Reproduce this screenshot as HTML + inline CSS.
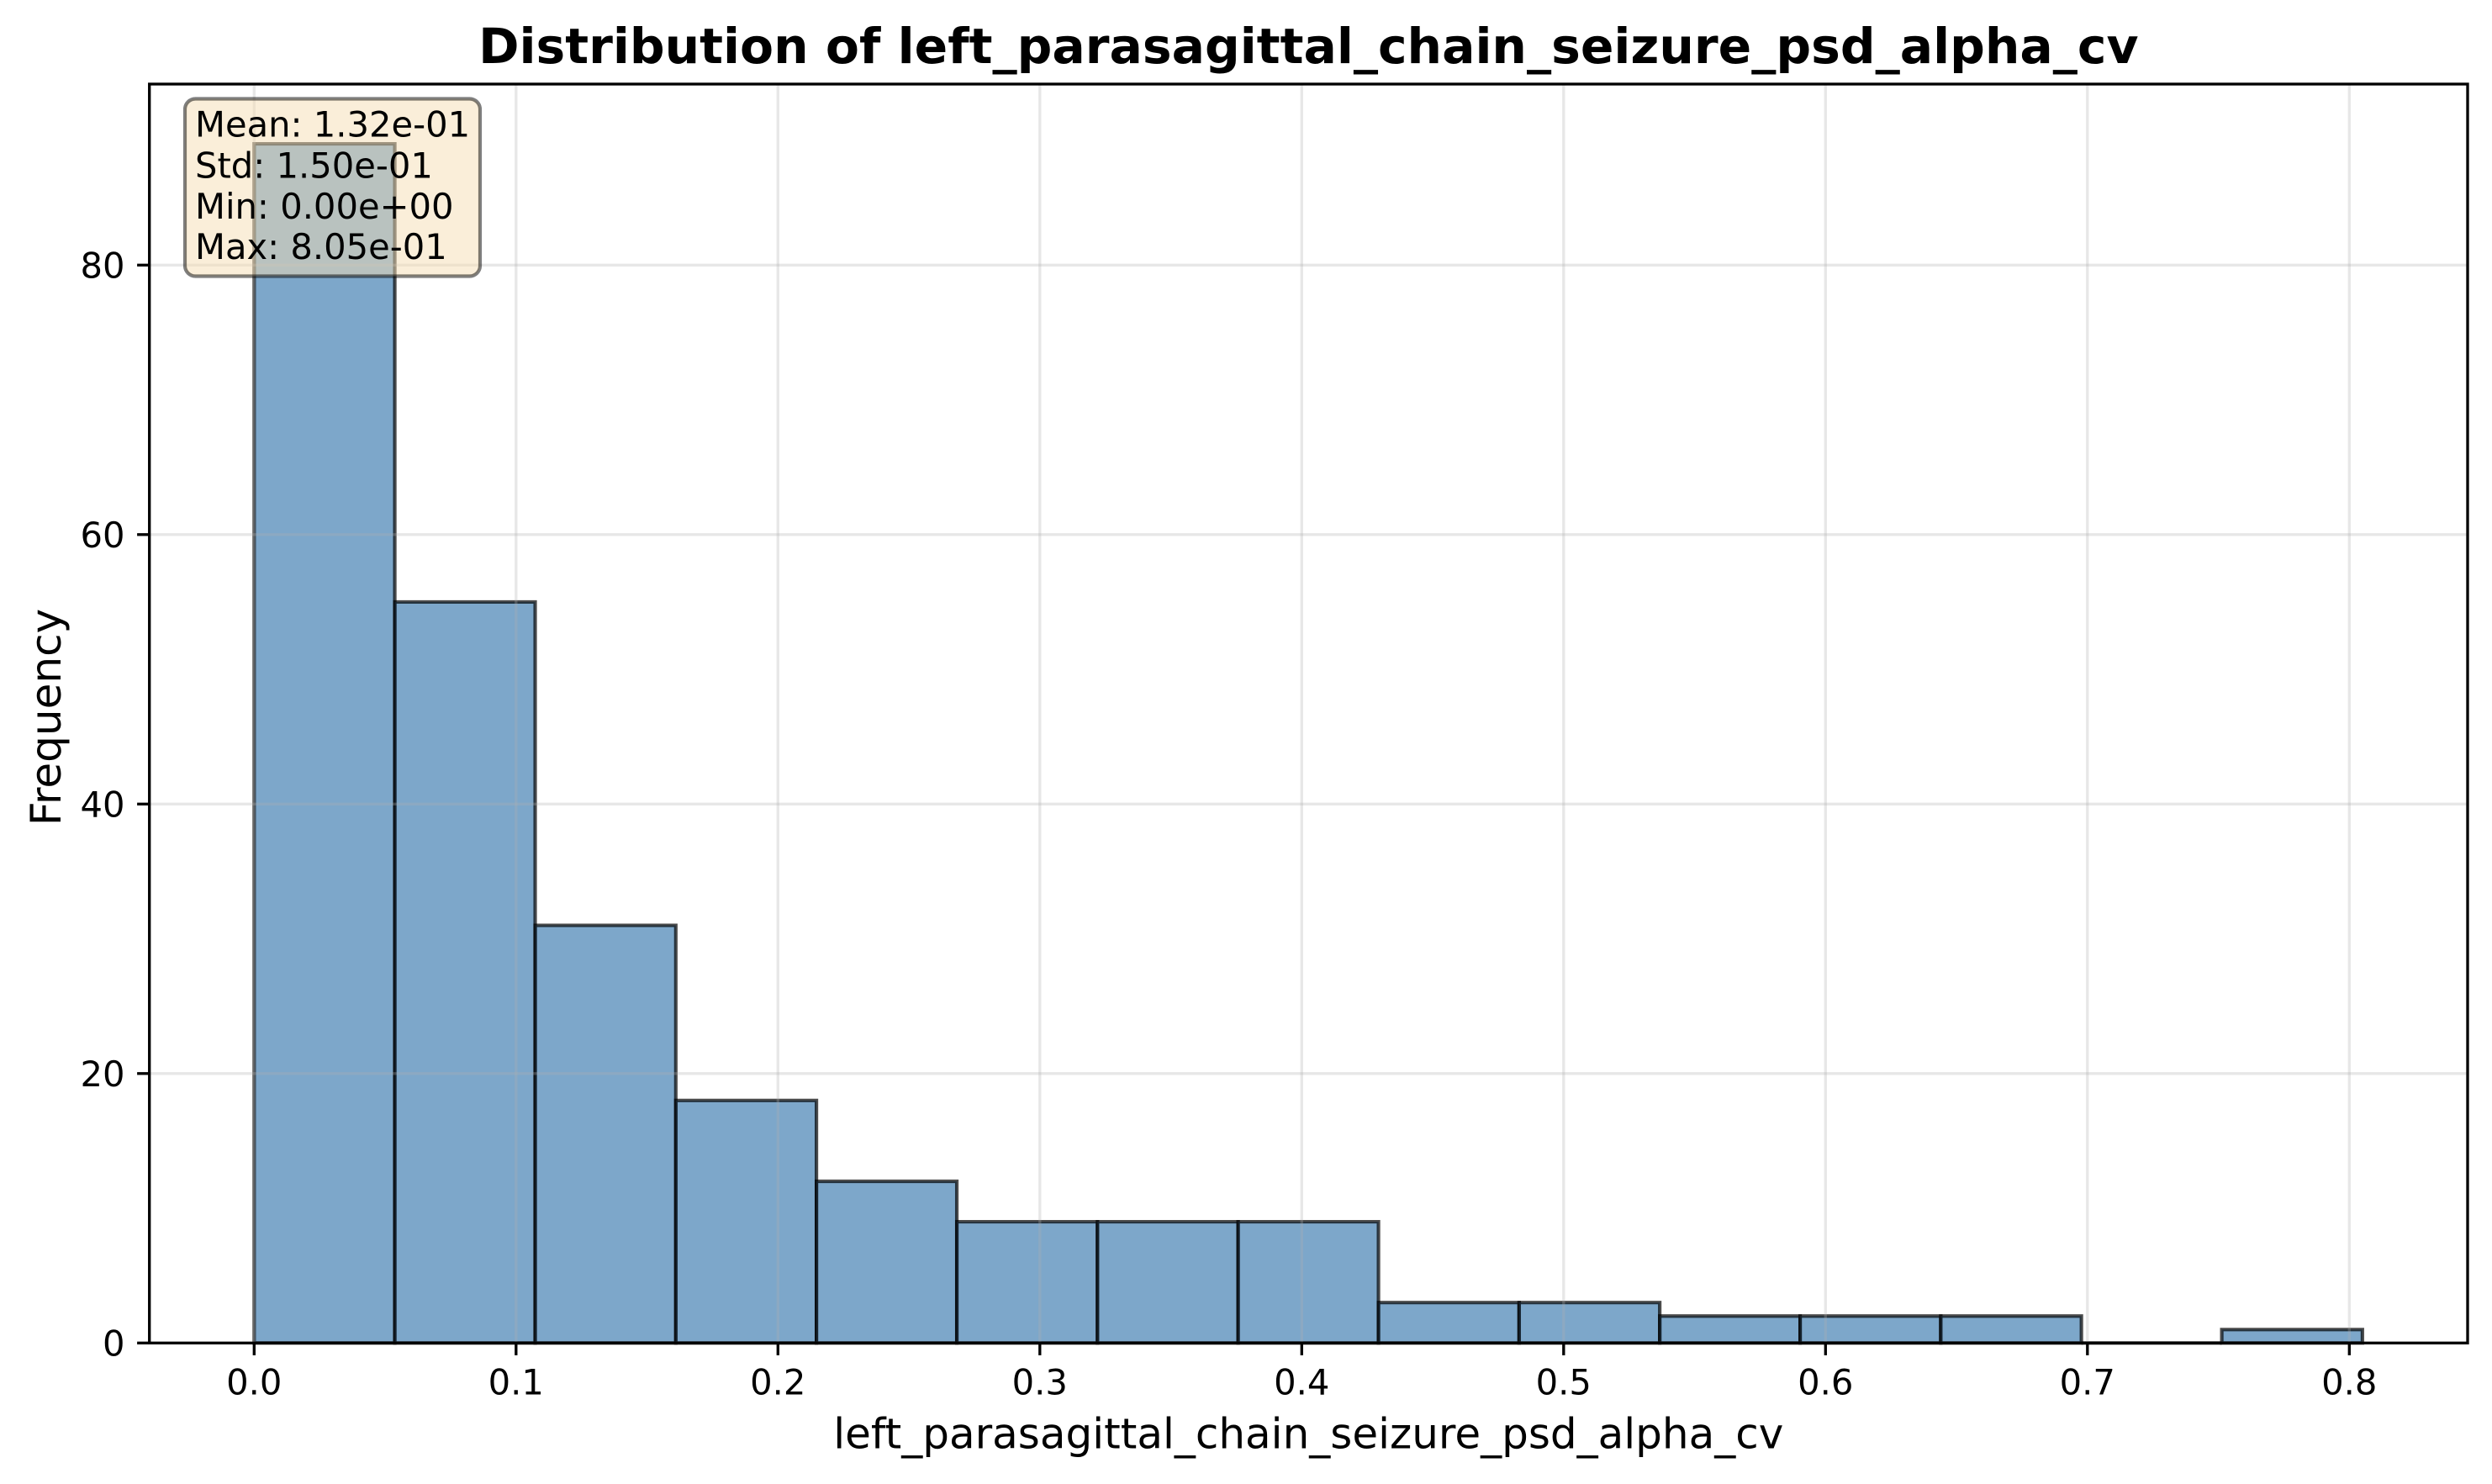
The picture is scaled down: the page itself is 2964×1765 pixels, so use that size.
<!DOCTYPE html>
<html lang="en">
<head>
<meta charset="utf-8">
<title>Distribution of left_parasagittal_chain_seizure_psd_alpha_cv</title>
<style>
html,body{margin:0;padding:0;background:#fff;width:2964px;height:1765px;overflow:hidden}
svg{display:block}
text{font-family:"DejaVu Sans","Liberation Sans",sans-serif;fill:#000}
</style>
</head>
<body>
<svg id="chart" xmlns="http://www.w3.org/2000/svg" width="2964" height="1765" viewBox="0 0 2964 1765">
  <rect x="0" y="0" width="2964" height="1765" fill="#ffffff"/>
  <g id="bars"></g>
  <g id="grid"></g>
  <rect x="177.7" y="100" width="2757.3" height="1497.3" fill="none" stroke="#000" stroke-width="3.33"/>
  <g id="ticks"></g>
  <text x="1556.3" y="75" text-anchor="middle" font-size="58.33" font-weight="700">Distribution of left_parasagittal_chain_seizure_psd_alpha_cv</text>
  <text x="1556.3" y="1722.3" text-anchor="middle" font-size="50">left_parasagittal_chain_seizure_psd_alpha_cv</text>
  <text x="0" y="0" transform="translate(72 853) rotate(-90)" text-anchor="middle" font-size="50">Frequency</text>
  <g>
    <rect x="220" y="117.5" width="351" height="211" rx="12.5" ry="12.5" fill="#f5deb3" fill-opacity="0.5" stroke="#000" stroke-opacity="0.5" stroke-width="4.17"/>
    <text x="232" y="162.5" font-size="41.67">Mean: 1.32e-01</text>
    <text x="232" y="211.5" font-size="41.67">Std: 1.50e-01</text>
    <text x="232" y="260" font-size="41.67">Min: 0.00e+00</text>
    <text x="232" y="308" font-size="41.67">Max: 8.05e-01</text>
  </g>
</svg>
<script>
const binEdges = [0, 0.0537, 0.1073, 0.161, 0.2147, 0.2683, 0.322, 0.3757, 0.4293, 0.483, 0.5367, 0.5903, 0.644, 0.6977, 0.7513, 0.805];
const binCounts = [89, 55, 31, 18, 12, 9, 9, 9, 3, 3, 2, 2, 2, 0, 1];
const xTickValues = [0, 0.1, 0.2, 0.3, 0.4, 0.5, 0.6, 0.7, 0.8];
const xTickLabels = ['0.0', '0.1', '0.2', '0.3', '0.4', '0.5', '0.6', '0.7', '0.8'];
const yTickValues = [0, 20, 40, 60, 80];
const yTickLabels = ['0', '20', '40', '60', '80'];

const SVG_NS = 'http://www.w3.org/2000/svg';
const plotLeft = 177.7, plotRight = 2935, plotTop = 100, plotBottom = 1597.3;
const xScale = v => 302.3 + v * 3115;
const yScale = v => plotBottom - v * 16.025;
const barsGroup = document.getElementById('bars');
const gridGroup = document.getElementById('grid');
const ticksGroup = document.getElementById('ticks');

function svgEl(tag, attrs) {
  const el = document.createElementNS(SVG_NS, tag);
  for (const k in attrs) el.setAttribute(k, attrs[k]);
  return el;
}

binCounts.forEach((count, i) => {
  const x0 = xScale(binEdges[i]);
  const x1 = xScale(binEdges[i + 1]);
  const y0 = yScale(0);
  const y1 = yScale(count);
  const bar = svgEl('path', {
    d: `M${x0} ${y0}V${y1}H${x1}V${y0}Z`,
    fill: '#4682b4',
    'fill-opacity': 0.7,
    stroke: '#000',
    'stroke-opacity': 0.7,
    'stroke-width': 4.17
  });
  
  
  barsGroup.appendChild(bar);
});

xTickValues.forEach((v, i) => {
  const x = xScale(v);
  const gridLine = svgEl('line', { x1: x, x2: x, y1: plotTop, y2: plotBottom, stroke: '#b0b0b0', 'stroke-opacity': 0.3, 'stroke-width': 3.33 });
  
  
  gridGroup.appendChild(gridLine);

  const tick = svgEl('line', { x1: x, x2: x, y1: plotBottom, y2: plotBottom + 14.6, stroke: '#000', 'stroke-width': 3.33 });
  
  
  ticksGroup.appendChild(tick);

  const label = svgEl('text', { x: x, y: 1658.3, 'text-anchor': 'middle', 'font-size': 41.67 });
  
  
  label.textContent = xTickLabels[i];
  ticksGroup.appendChild(label);
});

yTickValues.forEach((v, i) => {
  const y = yScale(v);
  const gridLine = svgEl('line', { x1: plotLeft, x2: plotRight, y1: y, y2: y, stroke: '#b0b0b0', 'stroke-opacity': 0.3, 'stroke-width': 3.33 });
  
  
  gridGroup.appendChild(gridLine);

  const tick = svgEl('line', { x1: plotLeft - 14.6, x2: plotLeft, y1: y, y2: y, stroke: '#000', 'stroke-width': 3.33 });
  
  
  ticksGroup.appendChild(tick);

  const label = svgEl('text', { x: 148.5, y: y + 15.4, 'text-anchor': 'end', 'font-size': 41.67 });
  
  
  label.textContent = yTickLabels[i];
  ticksGroup.appendChild(label);
});
</script>
</body>
</html>
